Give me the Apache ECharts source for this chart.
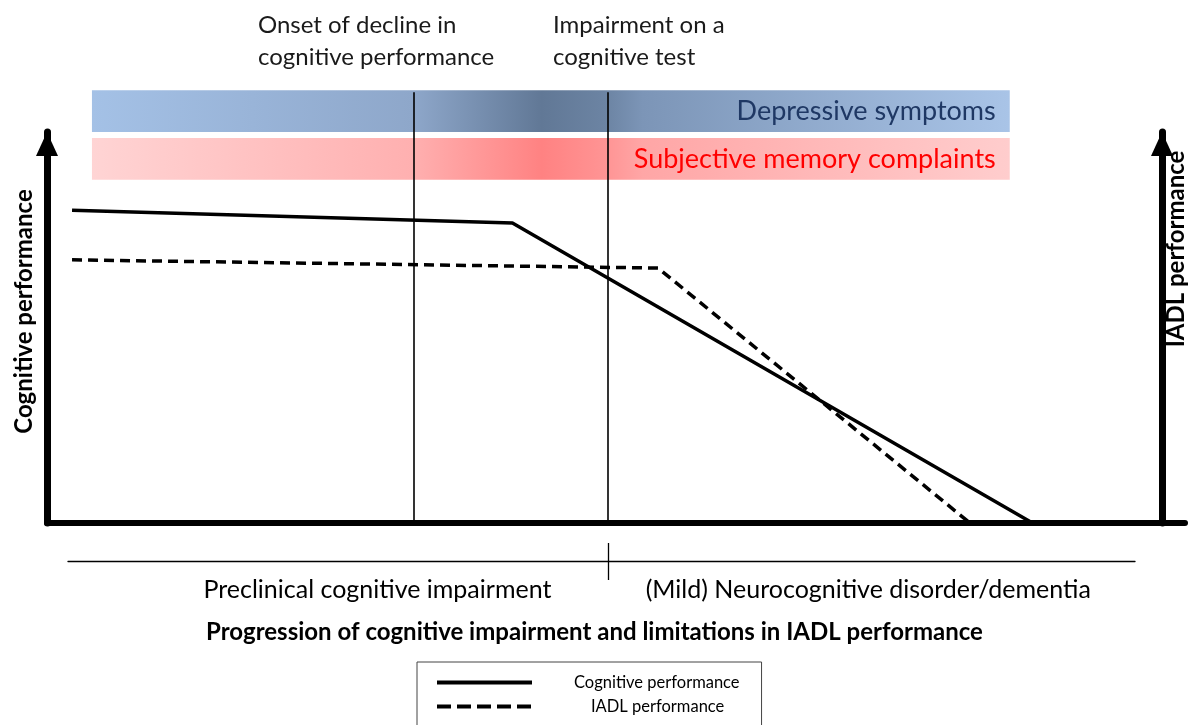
<!DOCTYPE html>
<html>
<head>
<meta charset="utf-8">
<script src="https://cdn.jsdelivr.net/npm/echarts@6/dist/echarts.min.js"></script>
<style>
html, body { margin: 0; padding: 0; background: #fff; }
#main { width: 1189px; height: 725px; }
</style>
</head>
<body>
<div id="main"></div>
<script>
// progression (x, 0-100) vs performance (y, 0-100)
var cognitive = [[2.2, 80.0], [40.9, 76.7], [86.6, 0]];
var iadl = [[2.2, 67.3], [53.7, 65.2], [81.1, 0]];

var markerNames = ['Onset of decline in\ncognitive performance', 'Impairment on a\ncognitive test'];
var markerX = [32.2, 49.3];

var bandNames = ['Depressive symptoms', 'Subjective memory complaints'];

var phaseNames = ['Preclinical cognitive impairment', '(Mild) Neurocognitive disorder/dementia'];
var phaseCenters = [29, 75];
var phaseBoundary = 50.6;

var FONT = 'Lato';
var chart = echarts.init(document.getElementById('main'));

function grad(stops) {
    return new echarts.graphic.LinearGradient(0, 0, 1, 0, stops);
}

var blueFill = grad([
    { offset: 0, color: '#a4c1e6' },
    { offset: 0.35, color: '#8ea7ca' },
    { offset: 0.49, color: '#617896' },
    { offset: 0.56, color: '#6c84a3' },
    { offset: 0.6, color: '#7c95b7' },
    { offset: 1, color: '#a9c4e7' }
]);
var pinkFill = grad([
    { offset: 0, color: '#ffd4d4' },
    { offset: 0.35, color: '#ffb0b0' },
    { offset: 0.49, color: '#ff8282' },
    { offset: 0.56, color: '#ff9494' },
    { offset: 0.6, color: '#ffa6a6' },
    { offset: 1, color: '#ffcdcd' }
]);

var bandStyles = [
    { y: [89.9, 99.5], fill: blueFill, color: '#1f3864' },
    { y: [78.9, 88.5], fill: pinkFill, color: '#ff0000' }
];

var axisArrow = {
    show: true,
    symbol: ['none', 'triangle'],
    symbolSize: [22, 24],
    symbolOffset: [0, -12],
    lineStyle: { color: '#000', width: 7 }
};

var option = {
    backgroundColor: '#fff',
    animation: false,
    textStyle: { fontFamily: FONT },
    title: {
        text: 'Progression of cognitive impairment and limitations in IADL performance',
        left: 'center',
        top: 615,
        textStyle: { fontSize: 24, fontWeight: 'bold', fontFamily: FONT, color: '#000' }
    },
    legend: {
        orient: 'vertical',
        left: 417,
        top: 662,
        height: 200,
        padding: [12, 22, 40, 18],
        itemWidth: 95,
        itemHeight: 14,
        itemGap: 7,
        borderColor: '#444',
        borderWidth: 1,
        itemStyle: { opacity: 0 },
        lineStyle: { width: 4 },
        textStyle: { fontSize: 16.5, fontFamily: FONT, color: '#000' },
        data: [
            { name: 'Cognitive performance', textStyle: { padding: [0, 0, 0, 37] } },
            {
                name: 'IADL performance',
                lineStyle: { type: [14, 6] },
                textStyle: { padding: [0, 0, 0, 54] }
            }
        ]
    },
    grid: [
        { left: 47, right: 4, top: 132, bottom: 202 },
        { left: 47, right: 4, top: 88, bottom: 202 },
        { left: 68, right: 54, top: 543, bottom: 145 }
    ],
    xAxis: [
        {
            gridIndex: 0, type: 'value', min: 0, max: 100,
            axisLine: { lineStyle: { color: '#000', width: 6 } },
            axisTick: { show: false }, axisLabel: { show: false }, splitLine: { show: false }
        },
        { gridIndex: 1, type: 'value', min: 0, max: 100, show: false },
        {
            gridIndex: 2, type: 'value', min: 0, max: 100,
            axisLine: { onZero: true, lineStyle: { color: '#000', width: 1.3 } },
            axisTick: { show: false },
            splitLine: { show: false },
            axisLabel: {
                customValues: phaseCenters,
                margin: -3,
                fontSize: 25,
                fontFamily: FONT,
                color: '#000',
                formatter: function (v) {
                    var i = phaseCenters.indexOf(v);
                    return i >= 0 ? phaseNames[i] : '';
                }
            }
        }
    ],
    yAxis: [
        {
            gridIndex: 0, type: 'value', min: 0, max: 100, position: 'left',
            axisLine: axisArrow,
            axisTick: { show: false }, axisLabel: { show: false }, splitLine: { show: false },
            name: 'Cognitive performance',
            nameLocation: 'middle',
            nameGap: 11,
            nameTextStyle: {
                fontSize: 24, fontWeight: 'bold', fontFamily: FONT, color: '#000',
                padding: [0, 0, 0, 32]
            }
        },
        {
            gridIndex: 0, type: 'value', min: 0, max: 100, position: 'right', offset: -23,
            axisLine: axisArrow,
            axisTick: { show: false }, axisLabel: { show: false }, splitLine: { show: false }
        },
        { gridIndex: 1, type: 'value', min: 0, max: 100, show: false },
        { gridIndex: 2, type: 'value', min: -1, max: 1, show: false }
    ],
    graphic: [
        {
            type: 'text', left: 258, top: 9,
            style: { text: markerNames[0], font: '24px ' + FONT, lineHeight: 32, fill: '#1a1a1a' }
        },
        {
            type: 'text', left: 553, top: 9,
            style: { text: markerNames[1], font: '24px ' + FONT, lineHeight: 32, fill: '#1a1a1a' }
        },
        {
            type: 'text', x: 1176, y: 249, rotation: Math.PI / 2,
            style: {
                text: 'IADL performance', font: 'bold 24px ' + FONT, fill: '#000',
                align: 'center', verticalAlign: 'middle'
            }
        }
    ],
    series: [
        {
            name: 'Cognitive performance', type: 'line',
            xAxisIndex: 0, yAxisIndex: 0,
            data: cognitive, symbol: 'none', z: 3,
            lineStyle: { color: '#000', width: 3.5 },
            itemStyle: { color: '#000' }
        },
        {
            name: 'IADL performance', type: 'line',
            xAxisIndex: 0, yAxisIndex: 0,
            data: iadl, symbol: 'none', z: 3,
            lineStyle: { color: '#000', width: 3.5, type: [10, 6] },
            itemStyle: { color: '#000' }
        },
        {
            name: 'bands', type: 'line',
            xAxisIndex: 1, yAxisIndex: 2,
            data: [], silent: true, z: 1,
            markArea: {
                silent: true,
                data: bandNames.map(function (n, i) {
                    return [
                        {
                            name: n,
                            coord: [3.95, bandStyles[i].y[0]],
                            itemStyle: { color: bandStyles[i].fill },
                            label: {
                                show: true, position: 'insideRight', distance: 14,
                                fontSize: 27, fontFamily: FONT, color: bandStyles[i].color
                            }
                        },
                        { coord: [84.6, bandStyles[i].y[1]] }
                    ];
                })
            },
            markLine: {
                silent: true,
                symbol: 'none',
                label: { show: false },
                lineStyle: { color: '#000', width: 1.6, type: 'solid' },
                data: markerX.map(function (x) {
                    return [{ coord: [x, 0] }, { coord: [x, 99] }];
                })
            }
        },
        {
            name: 'phases', type: 'line',
            xAxisIndex: 2, yAxisIndex: 3,
            data: [], silent: true,
            markLine: {
                silent: true,
                symbol: 'none',
                label: { show: false },
                lineStyle: { color: '#000', width: 1.3, type: 'solid' },
                data: [{ xAxis: phaseBoundary }]
            }
        }
    ]
};

chart.setOption(option);
</script>
</body>
</html>
